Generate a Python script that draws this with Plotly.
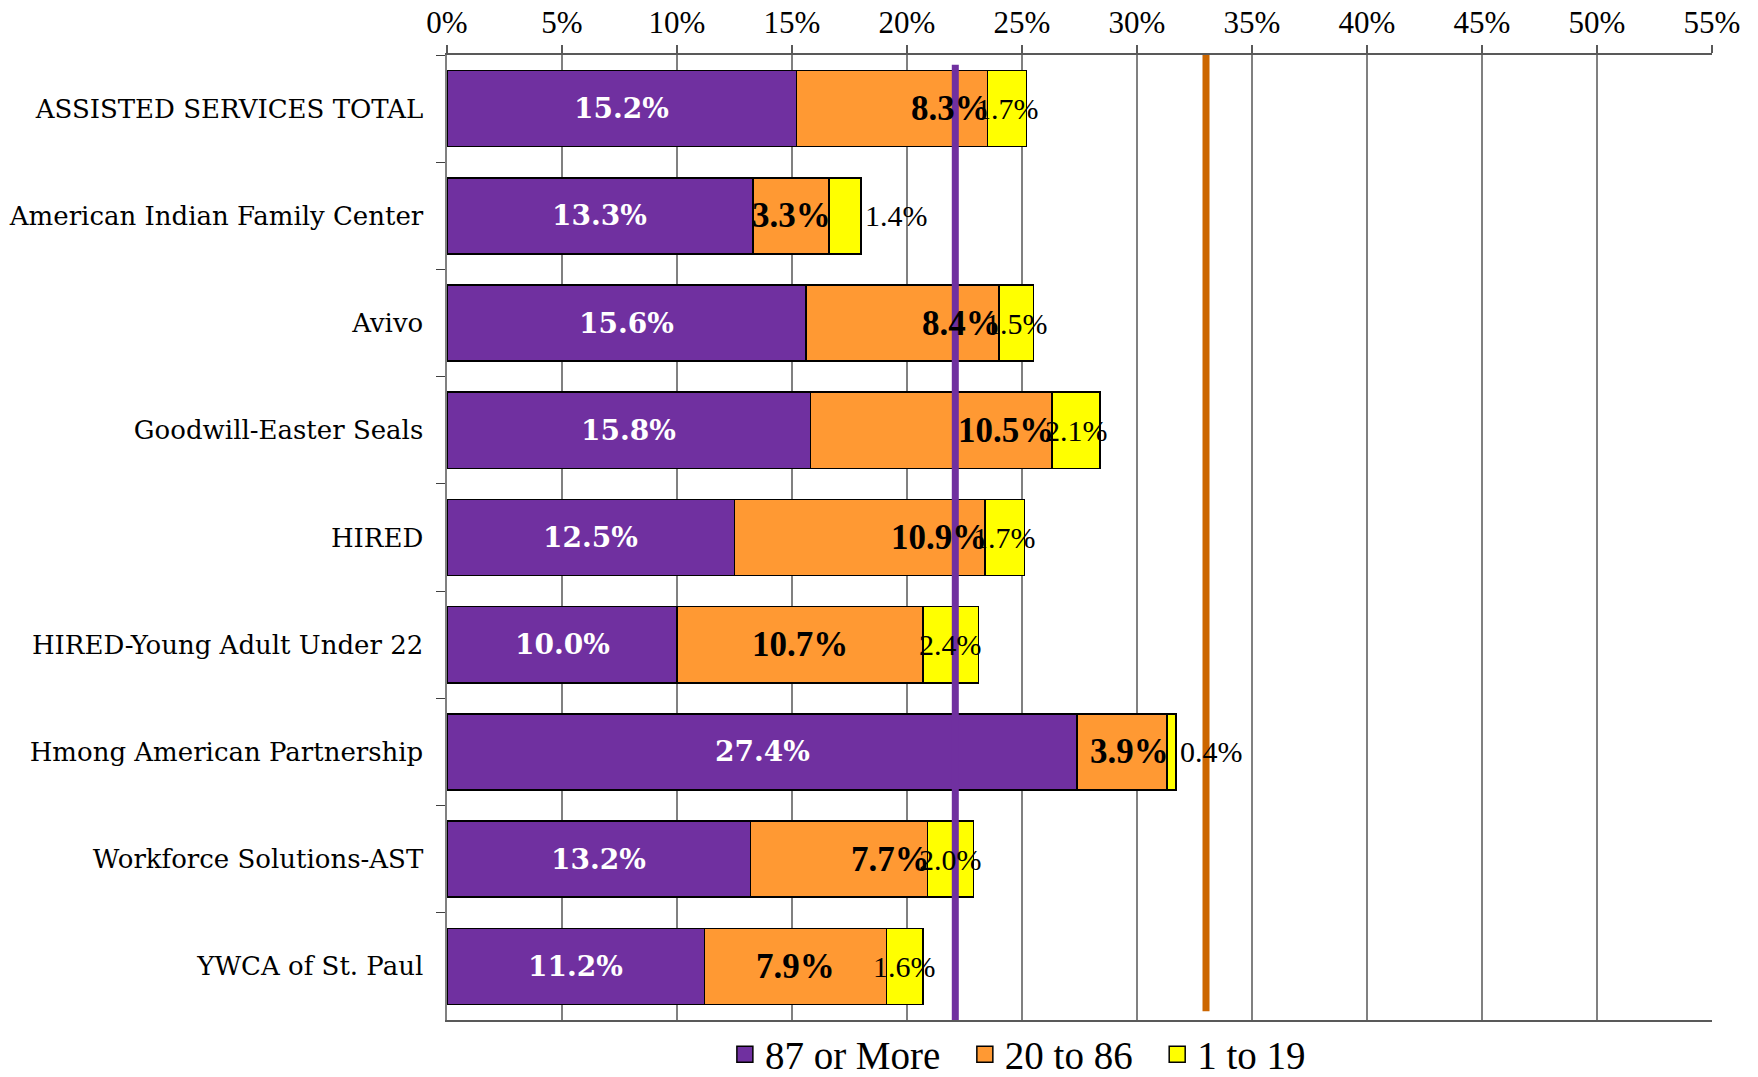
import plotly.graph_objects as go

categories = [
    "ASSISTED SERVICES TOTAL",
    "American Indian Family Center",
    "Avivo",
    "Goodwill-Easter Seals",
    "HIRED",
    "HIRED-Young Adult Under 22",
    "Hmong American Partnership",
    "Workforce Solutions-AST",
    "YWCA of St. Paul",
]
series_names = ["87 or More", "20 to 86", "1 to 19"]
vals_87_more = [15.2, 13.3, 15.6, 15.8, 12.5, 10.0, 27.4, 13.2, 11.2]
vals_20_86 = [8.3, 3.3, 8.4, 10.5, 10.9, 10.7, 3.9, 7.7, 7.9]
vals_1_19 = [1.7, 1.4, 1.5, 2.1, 1.7, 2.4, 0.4, 2.0, 1.6]
ref_purple = 22.1
ref_orange = 33.0
x_ticks = [0, 5, 10, 15, 20, 25, 30, 35, 40, 45, 50, 55]
x_ticktext = [f"{t}%" for t in x_ticks]

# label placement styles
orange_label_mode = ["end", "end", "end", "end", "end", "center", "end", "end", "center"]
yellow_label_mode = ["center", "outside", "center", "center", "center", "center", "outside", "center", "center"]

PURPLE = "#7030A0"
ORANGE = "#FF9933"
YELLOW = "#FFFF00"
LINE_ORANGE = "#CC6600"
colors = [PURPLE, ORANGE, YELLOW]
legend_pad = ["\u00a0\u00a0", "\u00a0\u00a0", ""]

fig = go.Figure()
for name, vals, col in zip(series_names, [vals_87_more, vals_20_86, vals_1_19], colors):
    fig.add_trace(go.Bar(
        y=categories, x=vals, name=name, orientation="h",
        marker=dict(color=col, line=dict(color="black", width=1.5)),
        hoverinfo="x+y", showlegend=False, legendgroup=name,
    ))
# legend entries with larger square symbols
for name, col, pad in zip(series_names, colors, legend_pad):
    fig.add_trace(go.Scatter(
        x=[None], y=[None], mode="markers", name=name + pad, legendgroup=name,
        marker=dict(symbol="square", size=19, color=col, line=dict(color="black", width=1.5)),
    ))

annotations = []
for i, cat in enumerate(categories):
    p, o, yv = vals_87_more[i], vals_20_86[i], vals_1_19[i]
    annotations.append(dict(x=p / 2, y=cat, text=f"<b>{p:.1f}%</b>", showarrow=False,
                            xanchor="center", yanchor="middle",
                            font=dict(family="DejaVu Serif", size=28, color="white")))
    if orange_label_mode[i] == "end":
        annotations.append(dict(x=p + o, y=cat, text=f"<b>{o:.1f}%</b>", showarrow=False,
                                xanchor="right", yanchor="middle", xshift=4,
                                font=dict(family="Liberation Serif", size=35, color="black")))
    else:
        annotations.append(dict(x=p + o / 2, y=cat, text=f"<b>{o:.1f}%</b>", showarrow=False,
                                xanchor="center", yanchor="middle",
                                font=dict(family="Liberation Serif", size=35, color="black")))
    if yellow_label_mode[i] == "center":
        annotations.append(dict(x=p + o + yv / 2, y=cat, text=f"{yv:.1f}%", showarrow=False,
                                xanchor="center", yanchor="middle",
                                font=dict(family="Liberation Serif", size=30, color="black")))
    else:
        annotations.append(dict(x=p + o + yv, y=cat, text=f"{yv:.1f}%", showarrow=False,
                                xanchor="left", yanchor="middle", xshift=2,
                                font=dict(family="Liberation Serif", size=30, color="black")))

shapes = [
    dict(type="line", xref="x", yref="paper", x0=ref_purple, x1=ref_purple, y0=0.0, y1=0.99,
         line=dict(color=PURPLE, width=7), layer="above"),
    dict(type="line", xref="x", yref="paper", x0=ref_orange, x1=ref_orange, y0=0.009, y1=1.0,
         line=dict(color=LINE_ORANGE, width=7), layer="above"),
]

fig.update_layout(
    width=1758, height=1077,
    barmode="stack", bargap=0.29,
    paper_bgcolor="white", plot_bgcolor="white",
    margin=dict(l=447, r=46, t=55, b=57, autoexpand=False),
    showlegend=True,
    legend=dict(orientation="h", xref="container", yref="container",
                x=0.579, y=0.021, xanchor="center", yanchor="middle",
                font=dict(family="Liberation Serif", size=39, color="black"),
                traceorder="normal", itemwidth=30, tracegroupgap=0),
    annotations=annotations,
    shapes=shapes,
    xaxis=dict(side="top", range=[0, 55], tickvals=x_ticks, ticktext=x_ticktext,
               showgrid=True, gridcolor="#808080", gridwidth=1.5,
               showline=True, linecolor="#595959", linewidth=2, mirror=True,
               ticks="outside", ticklen=8, tickcolor="#595959", tickwidth=1.5,
               tickfont=dict(family="Liberation Serif", size=31, color="black"),
               zeroline=False, fixedrange=True),
    yaxis=dict(autorange="reversed", showline=True, linecolor="#808080", linewidth=2,
               ticks="outside", tickson="boundaries", ticklen=9, tickcolor="#404040",
               tickfont=dict(family="DejaVu Serif", size=26, color="black"),
               showgrid=False, ticksuffix="  ", fixedrange=True),
    font=dict(family="Liberation Serif"),
)

fig.write_html("out.html", config={"displayModeBar": False},
               post_script="document.body.style.margin='0';document.body.style.overflow='hidden';")
